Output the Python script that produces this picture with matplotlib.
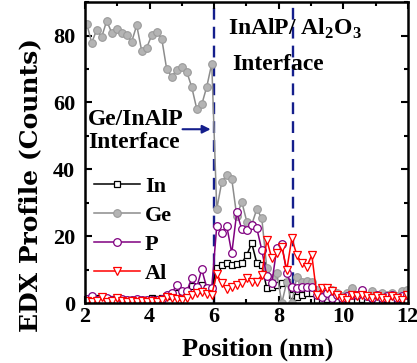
import matplotlib.pyplot as plt
import numpy as np
from matplotlib.ticker import MultipleLocator

# sampling grid for the line scan
X_START = 2.05
X_STEP = 0.155
N_POINTS = 65

IN_COUNTS = [
    1, 1, 1.5, 1, 1, 1.2, 1, 1, 0.8, 1, 1, 0.8, 1, 1.5, 1.2, 1.5, 2, 2.5, 3, 2.5,
    3, 5, 4, 5.5, 4.5, 4.5,
    10.4, 11.4, 12.1, 11.4, 11.7, 12.0, 14.4, 17.9, 12, 11.5, 4.4, 4.9, 5.4, 5.9,
    6.4, 2.4, 1.9, 2.4, 2.9, 2.9,
    1, 0.8, 1.2, 1, 0.8, 1, 1.5, 1, 0.8, 1.2, 1, 1.5, 0.8, 1, 1.2, 0.8, 1, 1.2, 1,
]
GE_COUNTS = [
    83.6, 77.9, 81.7, 79.6, 84.4, 80.9, 81.9, 80.9, 80.2, 78.2, 83.1, 75.4, 76.4,
    80.1, 81.1, 79.1, 69.9, 67.7, 69.8, 70.7, 69.2, 64.6, 58.1, 59.4, 64.7, 71.6,
    28.1, 36.2, 38.4, 37.1, 26, 30.3, 24.4, 23.5, 28.1, 25.4, 10.5, 7.5, 9, 0,
    6.4, 0, 7.9, 6.4, 6.5, 6.4,
    3.9, 3, 2.5, 4, 3, 2, 3, 4.5, 2.5, 3, 2, 3.5, 2, 3, 2.5, 3, 2, 3.5, 4,
]
P_COUNTS = [
    1.2, 2.2, 1, 0.8, 1.5, 1, 0.8, 1.2, 0.8, 1, 1.2, 0.8, 1, 0.8, 1, 1.2, 2.4, 3.0,
    5.4, 3.5, 3.5, 7.4, 4.7, 10.1, 4.6, 4.6,
    23.1, 21.1, 23.1, 14.9, 27.1, 22.1, 21.9, 23.4, 22.4, 15.9, 8, 5.9, 16.4, 17.6,
    9, 4.9, 4.4, 4.9, 4.9, 4.9,
    2.4, 1.9, 2.9, 1.5, 2.5, 1.5, 2.0, 2.5, 2.5, 3.9, 2.0, 1.5, 2.5, 1.5, 2.0, 2.5,
    1.5, 2.0, 2.5,
]
AL_COUNTS = [
    0.5, 0.3, 0.5, 1.8, 0.3, 0.5, 1.5, 0.5, 0.3, 0.5, 0.3, 0.5, 0.2, 0.5, 0.3, 0.8,
    1.9, 1.5, 1.2, 0.8, 1.5, 2.4, 3.0, 3.4, 2.8, 2.5,
    8.7, 5.9, 4.2, 4.9, 5.4, 5.9, 7.4, 6.4, 6.4, 8.4, 18.9, 13.4, 14.9, 16.9, 9.9,
    19.4, 14.4, 11.9, 10.9, 14.4,
    2.4, 4.4, 4.4, 3.5, 2.5, 1.5, 1, 2.5, 2, 2.5, 2, 1.5, 2, 1.5, 1, 2, 1.5, 1, 2.5,
]

INTERFACES = [6.0, 8.45]
NAVY = "#141e8c"

plt.rcParams.update(
    {
        "font.family": "serif",
        "font.serif": ["Liberation Serif", "DejaVu Serif"],
        "font.weight": "bold",
        "mathtext.fontset": "custom",
        "mathtext.rm": "Liberation Serif:bold",
        "mathtext.bf": "Liberation Serif:bold",
    }
)

x = X_START + X_STEP * np.arange(N_POINTS)

fig = plt.figure(figsize=(4.17, 3.63), dpi=100)
ax = fig.add_axes([0.204, 0.165, 0.774, 0.829])

ax.plot(x, IN_COUNTS, color="black", lw=1.1, marker="s", ms=4.5,
        mfc="white", mec="black", mew=0.9, label="In")
ax.plot(x, GE_COUNTS, color="#8c8c8c", lw=1.1, marker="o", ms=5.5,
        mfc="#b4b4b4", mec="#9a9a9a", mew=0.8, label="Ge")
ax.plot(x, P_COUNTS, color="#800080", lw=1.1, marker="o", ms=5.5,
        mfc="white", mec="#800080", mew=0.9, label="P")
ax.plot(x, AL_COUNTS, color="red", lw=1.1, marker="v", ms=6,
        mfc="white", mec="red", mew=0.9, label="Al")

for xi in INTERFACES:
    ax.axvline(xi, color=NAVY, lw=1.7, ls=(0, (5, 3)), zorder=0.5)

ax.set_xlim(2, 12)
ax.set_ylim(0, 90)
ax.xaxis.set_major_locator(MultipleLocator(2))
ax.xaxis.set_minor_locator(MultipleLocator(1))
ax.yaxis.set_major_locator(MultipleLocator(20))
ax.yaxis.set_minor_locator(MultipleLocator(10))
ax.tick_params(which="both", direction="in", top=True, right=True,
               width=1.5, labelsize=16)
ax.tick_params(axis="x", pad=3)
ax.tick_params(axis="y", pad=7)
ax.tick_params(which="major", length=5)
ax.tick_params(which="minor", length=3)
for sp in ax.spines.values():
    sp.set_linewidth(1.8)

ax.set_xlabel("Position (nm)", fontsize=19, fontweight="bold")
ax.set_ylabel("EDX Profile (Counts)", fontsize=18, fontweight="bold",
              family="DejaVu Serif")
ax.xaxis.set_label_coords(0.534, -0.113)
ax.yaxis.set_label_coords(-0.133, 0.392)

ax.legend(loc="upper left", bbox_to_anchor=(0.0, 0.452), frameon=False,
          fontsize=16, handlelength=2.05, handletextpad=0.25,
          labelspacing=0.38, borderaxespad=0.0)

ax.text(2.09, 53.2, "Ge/InAlP", fontsize=17, fontweight="bold",
        ha="left", va="baseline")
ax.text(2.09, 46.4, "Interface", fontsize=17, fontweight="bold",
        ha="left", va="baseline")
ax.annotate("", xy=(5.89, 52.0), xytext=(5.02, 52.0),
            arrowprops=dict(arrowstyle="-|>", color=NAVY, lw=1.5,
                            mutation_scale=12, shrinkA=0, shrinkB=0))
ax.text(6.44, 80.1, "InAlP/ Al$_2$O$_3$", fontsize=17,
        fontweight="bold", ha="left", va="baseline")
ax.text(6.55, 69.7, "Interface", fontsize=17,
        fontweight="bold", ha="left", va="baseline")

fig.savefig("out.png", dpi=100)
